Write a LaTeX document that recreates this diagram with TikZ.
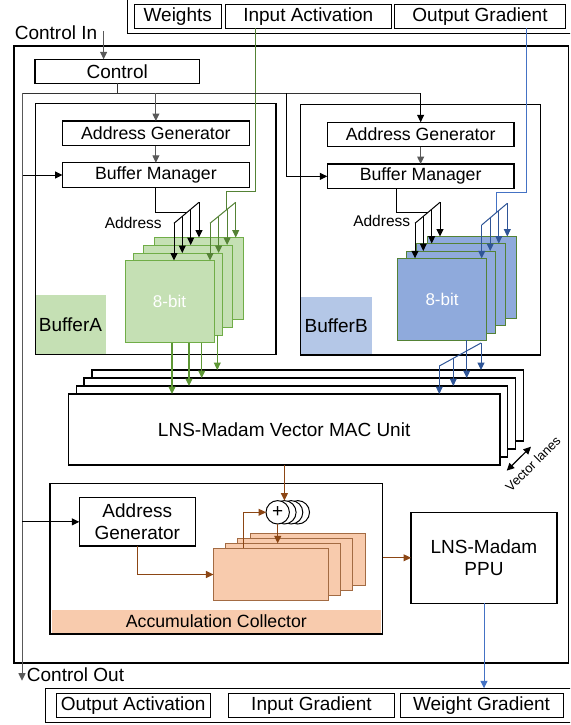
\documentclass[tikz,border=0pt]{standalone}
\usepackage{fontspec}
\setmainfont{Liberation Sans}
\usetikzlibrary{arrows.meta}
\definecolor{lgreen}{HTML}{C5E0B4}
\definecolor{dgreen}{HTML}{548235}
\definecolor{mgreen}{HTML}{70AD47}
\definecolor{ogreen}{HTML}{5E9735}
\definecolor{lblue}{HTML}{8FAADC}
\definecolor{llblue}{HTML}{B4C7E7}
\definecolor{mblue}{HTML}{4472C4}
\definecolor{dblue}{HTML}{2F5597}
\definecolor{lorange}{HTML}{F8CBAD}
\definecolor{brn}{HTML}{8C4614}
\definecolor{ctrlgray}{HTML}{595959}
\begin{document}
\begin{tikzpicture}[x=1pt,y=-1pt,
  every node/.style={inner sep=0pt, outer sep=0pt},
  fbig/.style={font=\fontsize{19}{22.3}\selectfont},
  fmid/.style={font=\fontsize{17.7}{20}\selectfont},
  fsml/.style={font=\fontsize{15.5}{18}\selectfont},
  ftiny/.style={font=\fontsize{13}{15}\selectfont},
  box/.style={draw=black, line width=1.3pt, fill=white, align=center},
  thinbox/.style={draw=black, line width=0.9pt, fill=white, fbig},
  tipst/.style={-{Triangle[length=7.5pt,width=7pt]}},
  blk/.style={tipst, line width=1pt, black},
  gry/.style={tipst, line width=1pt, ctrlgray},
  bus/.style={line width=1pt, black!80},
  gline/.style={line width=1pt, dgreen},
  garr/.style={gline, tipst},
  goarr/.style={tipst, line width=1.1pt, ogreen},
  bline/.style={line width=1pt, mblue},
  barr/.style={tipst, line width=1pt, dblue},
  brline/.style={line width=1.1pt, brn},
  brarr/.style={brline, tipst},
  gblk/.style={draw=mgreen, line width=0.8pt, fill=lgreen, minimum width=89pt, minimum height=82pt},
  bblk/.style={draw=dgreen, line width=0.8pt, fill=lblue, minimum width=89.5pt, minimum height=82pt},
  oblk/.style={draw=brn!80, line width=0.8pt, fill=lorange, minimum width=115pt, minimum height=52.4pt},
  macb/.style={draw, line width=1.4pt, fill=white, minimum width=431.5pt, minimum height=71pt},
  plus/.style={circle, draw, line width=1pt, fill=white, minimum size=23.4pt}
]
\useasboundingbox (0,0) rectangle (570,725);
\fill[white] (0,0) rectangle (570,725);
\clip (0,0) rectangle (570,725);

% ---------- top input bar
\node[draw, line width=0.9pt, minimum width=473pt, minimum height=43.3pt] (topbar) at (363.5,11.65) {};
\node[thinbox, minimum width=86.5pt, minimum height=24.3pt] (wt) at (177.75,16.2) {Weights};
\node[thinbox, minimum width=165.5pt, minimum height=24.3pt] (ia) at (308.25,16.2) {Input Activation};
\node[thinbox, minimum width=171pt, minimum height=24.3pt] (og) at (480,16.2) {Output Gradient};

% ---------- control in
\node[fbig] (cin) at (56,33) {Control In};
\coordinate (cinA) at (103.6,31);

% ---------- main frame
\draw[line width=1.6pt] (13.8,46) rectangle (568.5,662.7);

\node[box, fbig, minimum width=164.3pt, minimum height=24pt] (ctrl) at (117.2,71.3) {Control};
\draw[gry] (cinA) -- (cinA |- ctrl.north);

% ---------- buffer A
\node[fill=lgreen, fbig, minimum width=70.4pt, minimum height=59.3pt] (labA) at (70.5,324.65) {BufferA};
\node[draw, line width=1.4pt, minimum width=240.7pt, minimum height=250.6pt] (bufA) at (155.65,229) {};
\node[box, fmid, minimum width=186.8pt, minimum height=24.8pt] (agA) at (155.9,133.4) {Address Generator};
\node[box, fmid, minimum width=186.8pt, minimum height=24.5pt] (bmA) at (155.9,175) {Buffer Manager};
\draw[gry] (agA.south) -- (bmA.north);
\node[fsml] (adA) at (133.3,222.7) {Address};
\foreach \i/\x/\y in {3/198.5/278.5,2/188/286,1/178/294} \node[gblk] (ga\i) at (\x,\y) {};
\node[gblk, text=white, font=\fontsize{17}{20}\selectfont] (ga0) at (169.5,301.5) {8-bit};

\draw[line width=1pt] (bmA.south) |- (187.1,212.3);
\draw[line width=1pt] (174,223.3) -- (199,202.3);
\draw[blk] (174,223.3) -- (ga0.north -| 174,0);
\draw[blk] (182.3,216.3) -- (ga1.north -| 182.3,0);
\draw[blk] (190.7,209.3) -- (ga2.north -| 190.7,0);
\draw[blk] (199,202.3) -- (ga3.north -| 199,0);

\draw[gline] (ia.south -| 255.6,0) -- (255.6,191.7) -- (226,191.7) -- (226,210.2);
\draw[gline] (210,223.3) -- (235.7,202.3);
\draw[garr] (210,223.3) -- (ga0.north -| 210,0);
\draw[garr] (218.6,216.3) -- (ga1.north -| 218.6,0);
\draw[garr] (227.1,209.3) -- (ga2.north -| 227.1,0);
\draw[garr] (235.7,202.3) -- (ga3.north -| 235.7,0);

% ---------- buffer B
\node[fill=llblue, fbig, minimum width=71pt, minimum height=57.7pt] (labB) at (336.2,326.15) {BufferB};
\node[draw, line width=1.4pt, minimum width=240pt, minimum height=250.5pt] (bufB) at (420.7,229.75) {};
\node[box, fmid, minimum width=186.7pt, minimum height=24.4pt] (agB) at (420.65,134.5) {Address Generator};
\node[box, fmid, minimum width=186.7pt, minimum height=24.7pt] (bmB) at (420.65,176.35) {Buffer Manager};
\draw[gry] (agB.south) -- (bmB.north);
\node[fsml] (adB) at (381.7,220.7) {Address};
\foreach \i/\x/\y in {3/471.75/277.5,2/461.05/284.5,1/451.05/292} \node[bblk] (gb\i) at (\x,\y) {};
\node[bblk, text=white, font=\fontsize{17}{20}\selectfont] (gb0) at (442.05,299.3) {8-bit};

\draw[line width=1pt] (bmB.south -| 396,0) |- (428.1,212.3);
\draw[line width=1pt] (415,223.3) -- (440,202.3);
\draw[blk] (415,223.3) -- (gb0.north -| 415,0);
\draw[blk] (423.3,216.3) -- (gb1.north -| 423.3,0);
\draw[blk] (431.7,209.3) -- (gb2.north -| 431.7,0);
\draw[blk] (440,202.3) -- (gb3.north -| 440,0);

\draw[bline] (og.south -| 526.5,0) -- (526.5,192.3) -- (496,192.3) -- (496,212.9);
\draw[barr, -] (481.7,225) -- (507.3,203.3);
\draw[barr] (481.7,225) -- (gb0.north -| 481.7,0);
\draw[barr] (490.2,217.8) -- (gb1.north -| 490.2,0);
\draw[barr] (498.8,210.5) -- (gb2.north -| 498.8,0);
\draw[barr] (507.3,203.3) -- (gb3.north -| 507.3,0);

% ---------- control bus
\coordinate (busL) at (22,93);
\draw[bus] (ctrl.south) -- (ctrl.south |- busL);
\draw[bus] (busL) -- (busL -| agB.north);
\draw[blk] (busL -| agB.north) -- (agB.north);
\draw[gry] (busL -| agA.north) -- (agA.north);
\coordinate (busB) at (286.5,93);
\draw[blk] (busB) |- (bmB.west);
\draw[blk] (busL |- bmA.west) -- (bmA.west);
\coordinate (coutA) at (22,680.7);
\draw[gry] (busL) -- (coutA);

% ---------- MAC unit
\foreach \i/\x/\y in {3/307.55/405.5,2/299.75/413.5,1/291.95/421.5} \node[macb] (mac\i) at (\x,\y) {};
\node[macb, fbig] (mac0) at (284.15,429.5) {LNS-Madam Vector MAC Unit};

\draw[goarr] (ga0.south -| 172,0) -- (mac0.north -| 172,0);
\draw[goarr] (ga0.south -| 189,0) -- (mac1.north -| 189,0);
\draw[goarr] (ga0.south -| 201.7,0) -- (mac2.north -| 201.7,0);
\draw[goarr] (ga1.south -| 217.3,0) -- (mac3.north -| 217.3,0);

\draw[barr, -] (439.3,366) -- (481,343);
\draw[barr] (439.3,366) -- (mac0.north -| 439.3,0);
\draw[barr] (453.3,358.3) -- (mac1.north -| 453.3,0);
\draw[barr] (gb0.south -| 466.7,0) -- (mac2.north -| 466.7,0);
\draw[barr] (481,343) -- (mac3.north -| 481,0);

\coordinate (vl1) at (506.7,470.7);
\coordinate (vl2) at (531,446.7);
\draw[{Triangle[length=7.5pt,width=7pt]}-{Triangle[length=7.5pt,width=7pt]}, line width=1.2pt] (vl1) -- (vl2);
\node[ftiny, rotate=45] (vlt) at (533,464) {Vector lanes};

% ---------- accumulation collector
\node[fill=lorange, fmid, minimum width=328.7pt, minimum height=22.7pt] (acclab) at (216.35,621.35) {Accumulation Collector};
\node[draw, line width=1.4pt, minimum width=332.7pt, minimum height=150.7pt] (acc) at (216.15,558.65) {};
\node[box, fbig, minimum width=116pt, minimum height=48.3pt] (agacc) at (137.3,521.85) {Address\\Generator};
\draw[blk] (busL |- agacc.west) -- (agacc.west);

\foreach \i/\x/\y in {3/307.65/559.5,2/294.95/564.5,1/282.95/569.5,0/270.95/574.5} \node[oblk] (ob\i) at (\x,\y) {};

\foreach \i/\x in {3/297.8,2/291.1,1/284.4} \node[plus] (p\i) at (\x,512.3) {};
\node[plus, fbig] (p0) at (277.7,512.3) {+};

\draw[brarr] (mac0.south -| p1.north) -- (p1.north);
\draw[brarr] (p0.south) -- (p0.south |- ob1.north);
\draw[brarr] (ob0.north -| 243.3,0) |- (p0.west);
\draw[brarr] (agacc.south) |- (ob0.west);

% ---------- PPU
\node[box, fbig, minimum width=146pt, minimum height=91pt] (ppu) at (484,557.8) {LNS-Madam\\PPU};
\draw[brarr] (acc.east |- ppu.west) -- (ppu.west);

% ---------- control out and output bar
\node[fbig] (cout) at (75.5,674.3) {Control Out};
\node[draw, line width=0.9pt, minimum width=554.5pt, minimum height=34.4pt] (botbar) at (322.75,705.5) {};
\node[thinbox, minimum width=153.6pt, minimum height=24pt] (oa) at (133.2,705.3) {Output Activation};
\node[thinbox, minimum width=166.1pt, minimum height=24pt] (ig) at (311.45,705.3) {Input Gradient};
\node[thinbox, minimum width=163pt, minimum height=24pt] (wg) at (481.5,705.3) {Weight Gradient};
\draw[tipst, line width=1pt, mblue] (ppu.south) -- (ppu.south |- botbar.north);
\end{tikzpicture}
\end{document}
